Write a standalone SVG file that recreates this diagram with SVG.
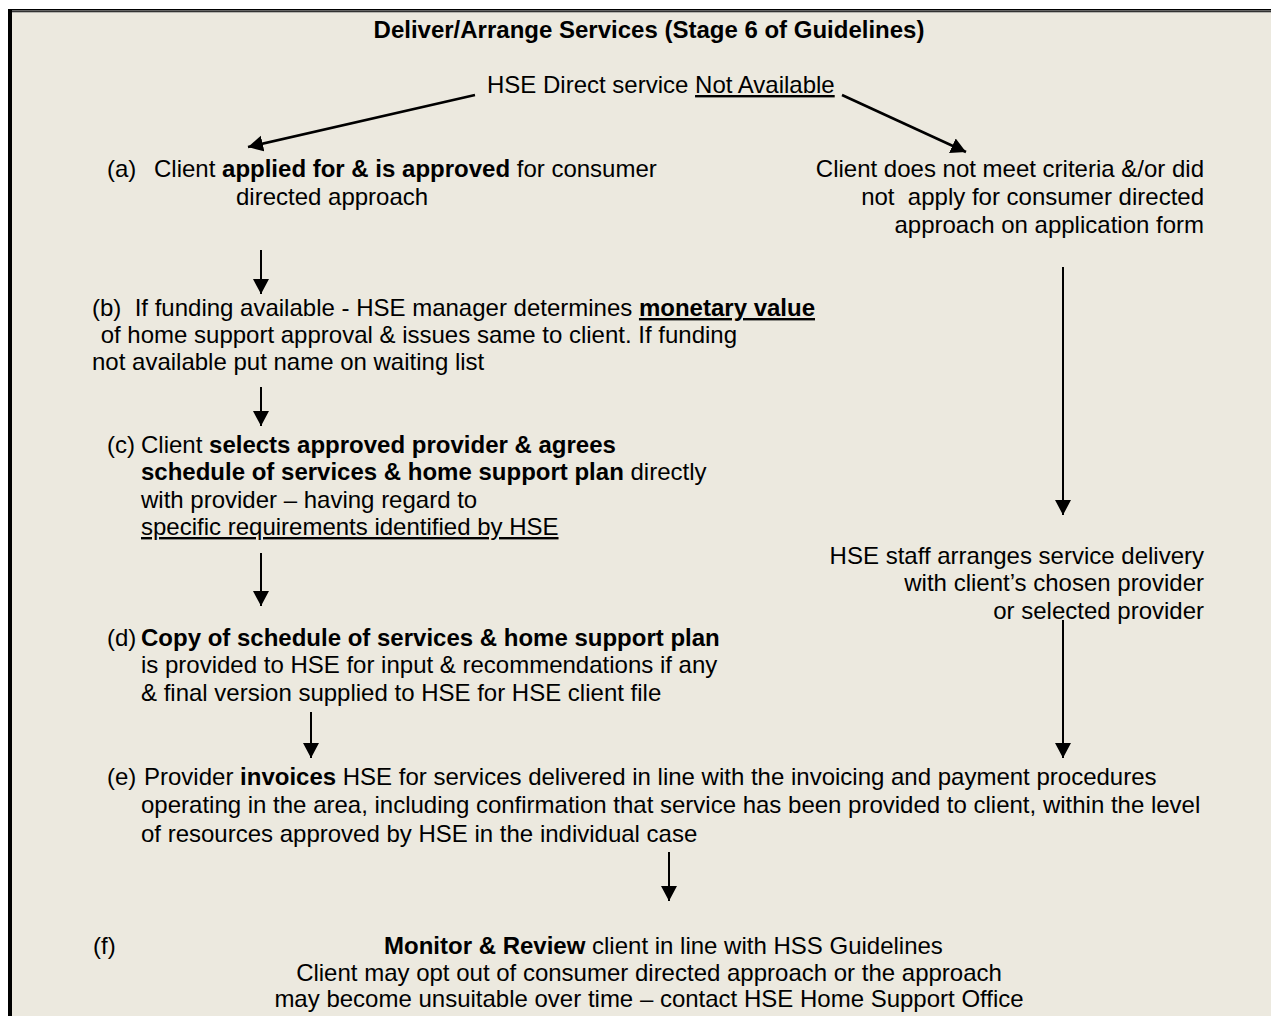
<svg xmlns="http://www.w3.org/2000/svg" width="1271" height="1016" viewBox="0 0 1271 1016">
<style>
text{font-family:"Liberation Sans",Arial,sans-serif;font-size:24px;fill:#000;white-space:pre}
.b{font-weight:bold}
.u{text-decoration:underline}
.r{text-anchor:end}
.c{text-anchor:middle}
.conn line{stroke:#000;stroke-width:2}
</style>
<defs>
<marker id="ah" markerUnits="userSpaceOnUse" markerWidth="17" markerHeight="17" refX="15" refY="8" orient="auto">
<path d="M0,0 L15,8 L0,16 z" fill="#000"/>
</marker>
</defs>
<rect x="0" y="0" width="1271" height="1016" fill="#fff"/>
<g id="frame">
<rect x="8" y="9" width="1263" height="1.6" fill="#000"/>
<rect x="8" y="11.2" width="1263" height="1.3" fill="#000"/>
<rect x="8" y="9" width="4" height="1007" fill="#000"/>
<rect x="12" y="12.5" width="1259" height="1003.5" fill="#ECE9DF"/>
</g>
<g id="title"><text class="b c" x="649" y="38">Deliver/Arrange Services (Stage 6 of Guidelines)</text></g>
<g id="start"><text x="487" y="93">HSE Direct service <tspan class="u">Not Available</tspan></text></g>
<g id="node-a"><text x="107" y="177">(a)</text><text x="154" y="177">Client <tspan class="b">applied for &amp; is approved</tspan> for consumer</text><text x="236" y="205">directed approach</text></g>
<g id="node-right1"><text class="r" x="1204" y="177">Client does not meet criteria &amp;/or did</text><text class="r" x="1204" y="205">not  apply for consumer directed</text><text class="r" x="1204" y="233">approach on application form</text></g>
<g id="node-b"><text x="92" y="316">(b)  If funding available - HSE manager determines <tspan class="b u">monetary value</tspan></text><text x="94" y="343"> of home support approval &amp; issues same to client. If funding</text><text x="92" y="370">not available put name on waiting list</text></g>
<g id="node-c"><text x="107" y="453">(c)</text><text x="141" y="453">Client <tspan class="b">selects approved provider &amp; agrees</tspan></text><text x="141" y="480"><tspan class="b">schedule of services &amp; home support plan</tspan> directly</text><text x="141" y="508">with provider – having regard to</text><text x="141" y="535" class="u">specific requirements identified by HSE</text></g>
<g id="node-right2"><text class="r" x="1204" y="564">HSE staff arranges service delivery</text><text class="r" x="1204" y="591">with client’s chosen provider</text><text class="r" x="1204" y="619">or selected provider</text></g>
<g id="node-d"><text x="107" y="646">(d)</text><text x="141" y="646" class="b">Copy of schedule of services &amp; home support plan</text><text x="141" y="673">is provided to HSE for input &amp; recommendations if any</text><text x="141" y="701">&amp; final version supplied to HSE for HSE client file</text></g>
<g id="node-e"><text x="107" y="785">(e)</text><text x="144" y="785">Provider <tspan class="b">invoices</tspan> HSE for services delivered in line with the invoicing and payment procedures</text><text x="141" y="813">operating in the area, including confirmation that service has been provided to client, within the level</text><text x="141" y="842">of resources approved by HSE in the individual case</text></g>
<g id="node-f"><text x="93" y="954">(f)</text><text x="384" y="954"><tspan class="b">Monitor &amp; Review</tspan> client in line with HSS Guidelines</text><text class="c" x="649" y="981">Client may opt out of consumer directed approach or the approach</text><text class="c" x="649" y="1007">may become unsuitable over time – contact HSE Home Support Office</text></g>
<g id="connectors" class="conn">
<line x1="475" y1="95" x2="248" y2="147" marker-end="url(#ah)" style="stroke-width:2.5"/>
<line x1="842" y1="95" x2="966" y2="152" marker-end="url(#ah)" style="stroke-width:2.5"/>
<line x1="261" y1="250" x2="261" y2="294" marker-end="url(#ah)"/>
<line x1="261" y1="387" x2="261" y2="426" marker-end="url(#ah)"/>
<line x1="261" y1="553" x2="261" y2="606" marker-end="url(#ah)"/>
<line x1="311" y1="712" x2="311" y2="758" marker-end="url(#ah)"/>
<line x1="669" y1="852" x2="669" y2="901" marker-end="url(#ah)"/>
<line x1="1063" y1="267" x2="1063" y2="515" marker-end="url(#ah)"/>
<line x1="1063" y1="620" x2="1063" y2="758" marker-end="url(#ah)"/>
</g>
</svg>
